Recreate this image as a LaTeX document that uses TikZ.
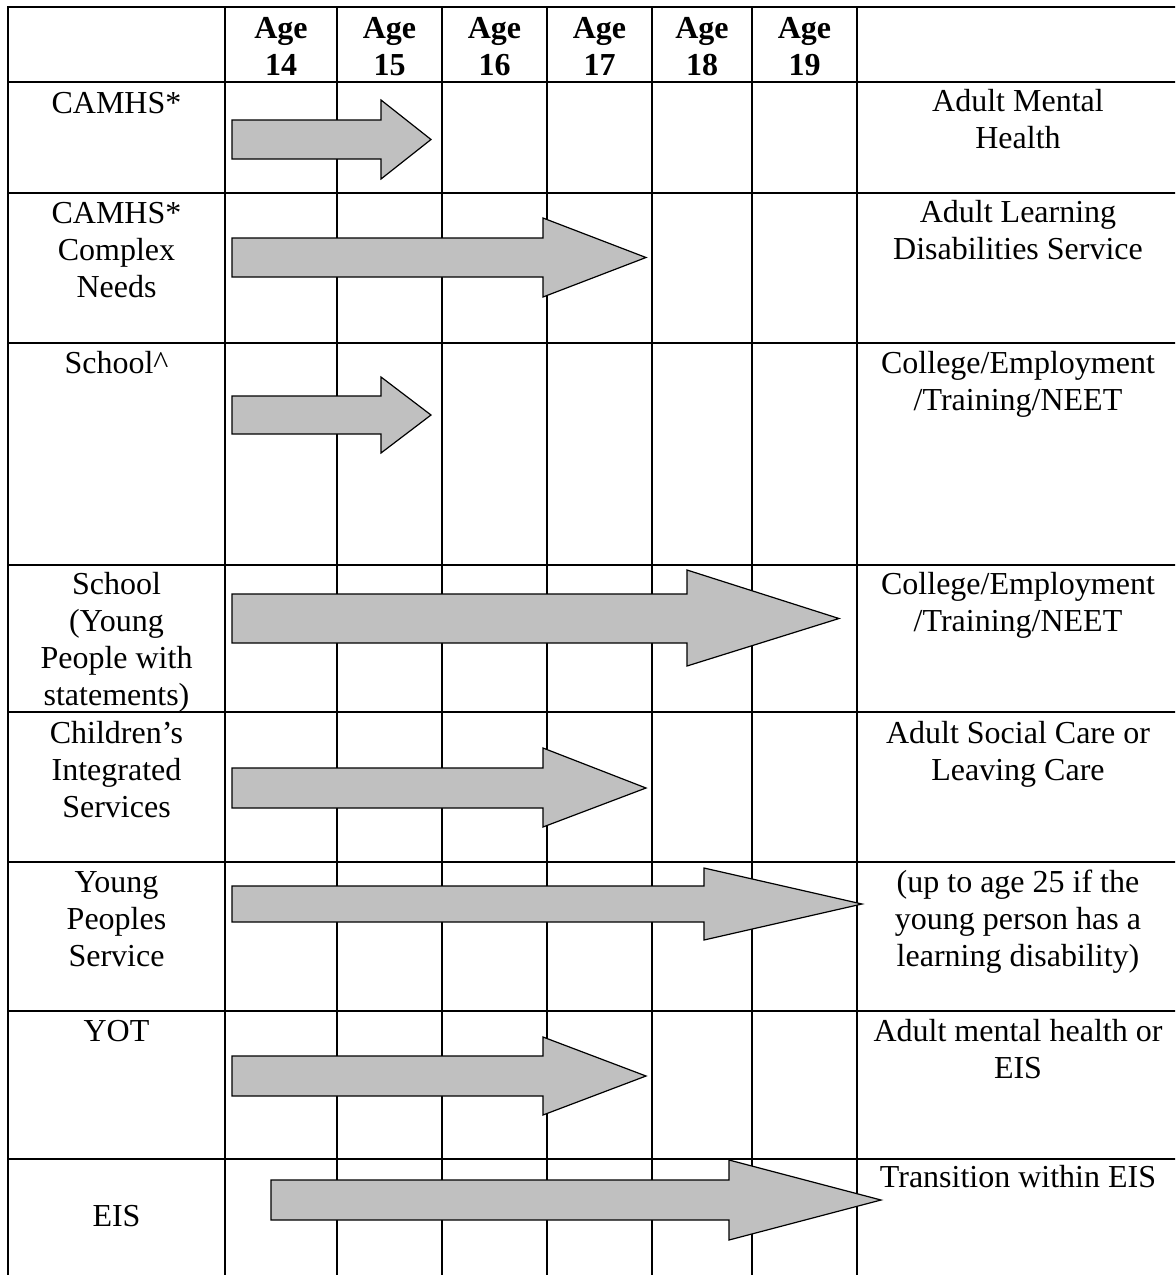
\documentclass[tikz,border=0pt]{standalone}
\usepackage{fontspec}
\setmainfont{Liberation Serif}
\usepackage{tikz}
\definecolor{arrowgray}{RGB}{192,192,192}

\begin{document}
\begin{tikzpicture}[line cap=rect,line join=miter,x=0.5pt,y=-0.5pt]
\useasboundingbox (0,0) rectangle (1175,1275);
\clip (0,0) rectangle (1175,1275);
\tikzstyle{gridline}=[line width=1pt];
\tikzstyle{blockarrow}=[line width=0.6pt, draw=black, fill=arrowgray];
% anchor is the baseline of the last line
\tikzstyle{cell}=[anchor=base, align=center, inner sep=0pt, font=\fontsize{16}{18.5}\selectfont];
\tikzstyle{agehead}=[anchor=base, align=center, inner sep=0pt, font=\fontsize{16}{18.5}\selectfont\bfseries];
% rows
\draw [gridline] (8,7)-- (1185,7);
\draw [gridline] (8,82)-- (1185,82);
\draw [gridline] (8,193)-- (1185,193);
\draw [gridline] (8,343)-- (1185,343);
\draw [gridline] (8,565)-- (1185,565);
\draw [gridline] (8,712)-- (1185,712);
\draw [gridline] (8,862)-- (1185,862);
\draw [gridline] (8,1011)-- (1185,1011);
\draw [gridline] (8,1159)-- (1185,1159);
% columns
\draw [gridline] (8,7)-- (8,1285);
\draw [gridline] (225,7)-- (225,1285);
\draw [gridline] (337,7)-- (337,1285);
\draw [gridline] (442,7)-- (442,1285);
\draw [gridline] (547,7)-- (547,1285);
\draw [gridline] (652,7)-- (652,1285);
\draw [gridline] (752,7)-- (752,1285);
\draw [gridline] (857,7)-- (857,1285);
%\draw [gridline] (1179,7)-- (1179,1285);
% arrows
\draw [blockarrow] (232,120)-- (381,120)-- (381,100)-- (431,139.5)-- (381,179)-- (381,159)-- (232,159)-- cycle;%camhs
\draw [blockarrow] (232,238)-- (543,238)-- (543,218)-- (646,257.5)-- (543,297)-- (543,277)-- (232,277)-- cycle;%complex
\draw [blockarrow] (232,396)-- (381,396)-- (381,377)-- (431,415)-- (381,453)-- (381,434)-- (232,434)-- cycle;%school
\draw [blockarrow] (232,594)-- (687,594)-- (687,570)-- (839,618.5)-- (687,666)-- (687,643)-- (232,643)-- cycle;%statements
\draw [blockarrow] (232,768)-- (543,768)-- (543,748)-- (646,788)-- (543,827)-- (543,808)-- (232,808)-- cycle;%children
\draw [blockarrow] (232,886)-- (704,886)-- (704,868)-- (862,904)-- (704,940)-- (704,922)-- (232,922)-- cycle;%young
\draw [blockarrow] (232,1056)-- (543,1056)-- (543,1037)-- (646,1076)-- (543,1115)-- (543,1096)-- (232,1096)-- cycle;%yot
\draw [blockarrow] (271,1180)-- (729,1180)-- (729,1160)-- (881,1200)-- (729,1240)-- (729,1220)-- (271,1220)-- cycle;%eis
% header
\draw (281,75) node [agehead] (age14) {Age\\14};
\draw (389.5,75) node [agehead] (age15) {Age\\15};
\draw (494.5,75) node [agehead] (age16) {Age\\16};
\draw (599.5,75) node [agehead] (age17) {Age\\17};
\draw (702,75) node [agehead] (age18) {Age\\18};
\draw (804.5,75) node [agehead] (age19) {Age\\19};
% services
\draw (116.5,113) node [cell] (camhs) {CAMHS*};
\draw (116.5,297) node [cell] (complex) {CAMHS*\\Complex\\Needs};
\draw (116.5,373) node [cell] (school) {School\textasciicircum};
\draw (116.5,705) node [cell] (statements) {School\\(Young\\People with\\statements)};
\draw (116.5,817) node [cell] (childrens) {Children’s\\Integrated\\Services};
\draw (116.5,966) node [cell] (youngpeople) {Young\\Peoples\\Service};
\draw (116.5,1041) node [cell] (yot) {YOT};
\draw (116.5,1226) node [cell] (eis) {EIS};
% destinations
\draw (1018,148) node [cell] (adultmh) {Adult Mental\\Health};
\draw (1018,259) node [cell] (adultld) {Adult Learning\\Disabilities Service};
\draw (1018,410) node [cell] (college) {College/Employment\\/Training/NEET};
\draw (1018,631) node [cell] (collegeb) {College/Employment\\/Training/NEET};
\draw (1018,780) node [cell] (socialcare) {Adult Social Care or\\Leaving Care};
\draw (1018,966) node [cell] (upto) {(up to age 25 if the\\young person has a\\learning disability)};
\draw (1018,1078) node [cell] (adultmheis) {Adult mental health or\\EIS};
\draw (1018,1187) node [cell] (transition) {Transition within EIS};
\end{tikzpicture}
\end{document}
